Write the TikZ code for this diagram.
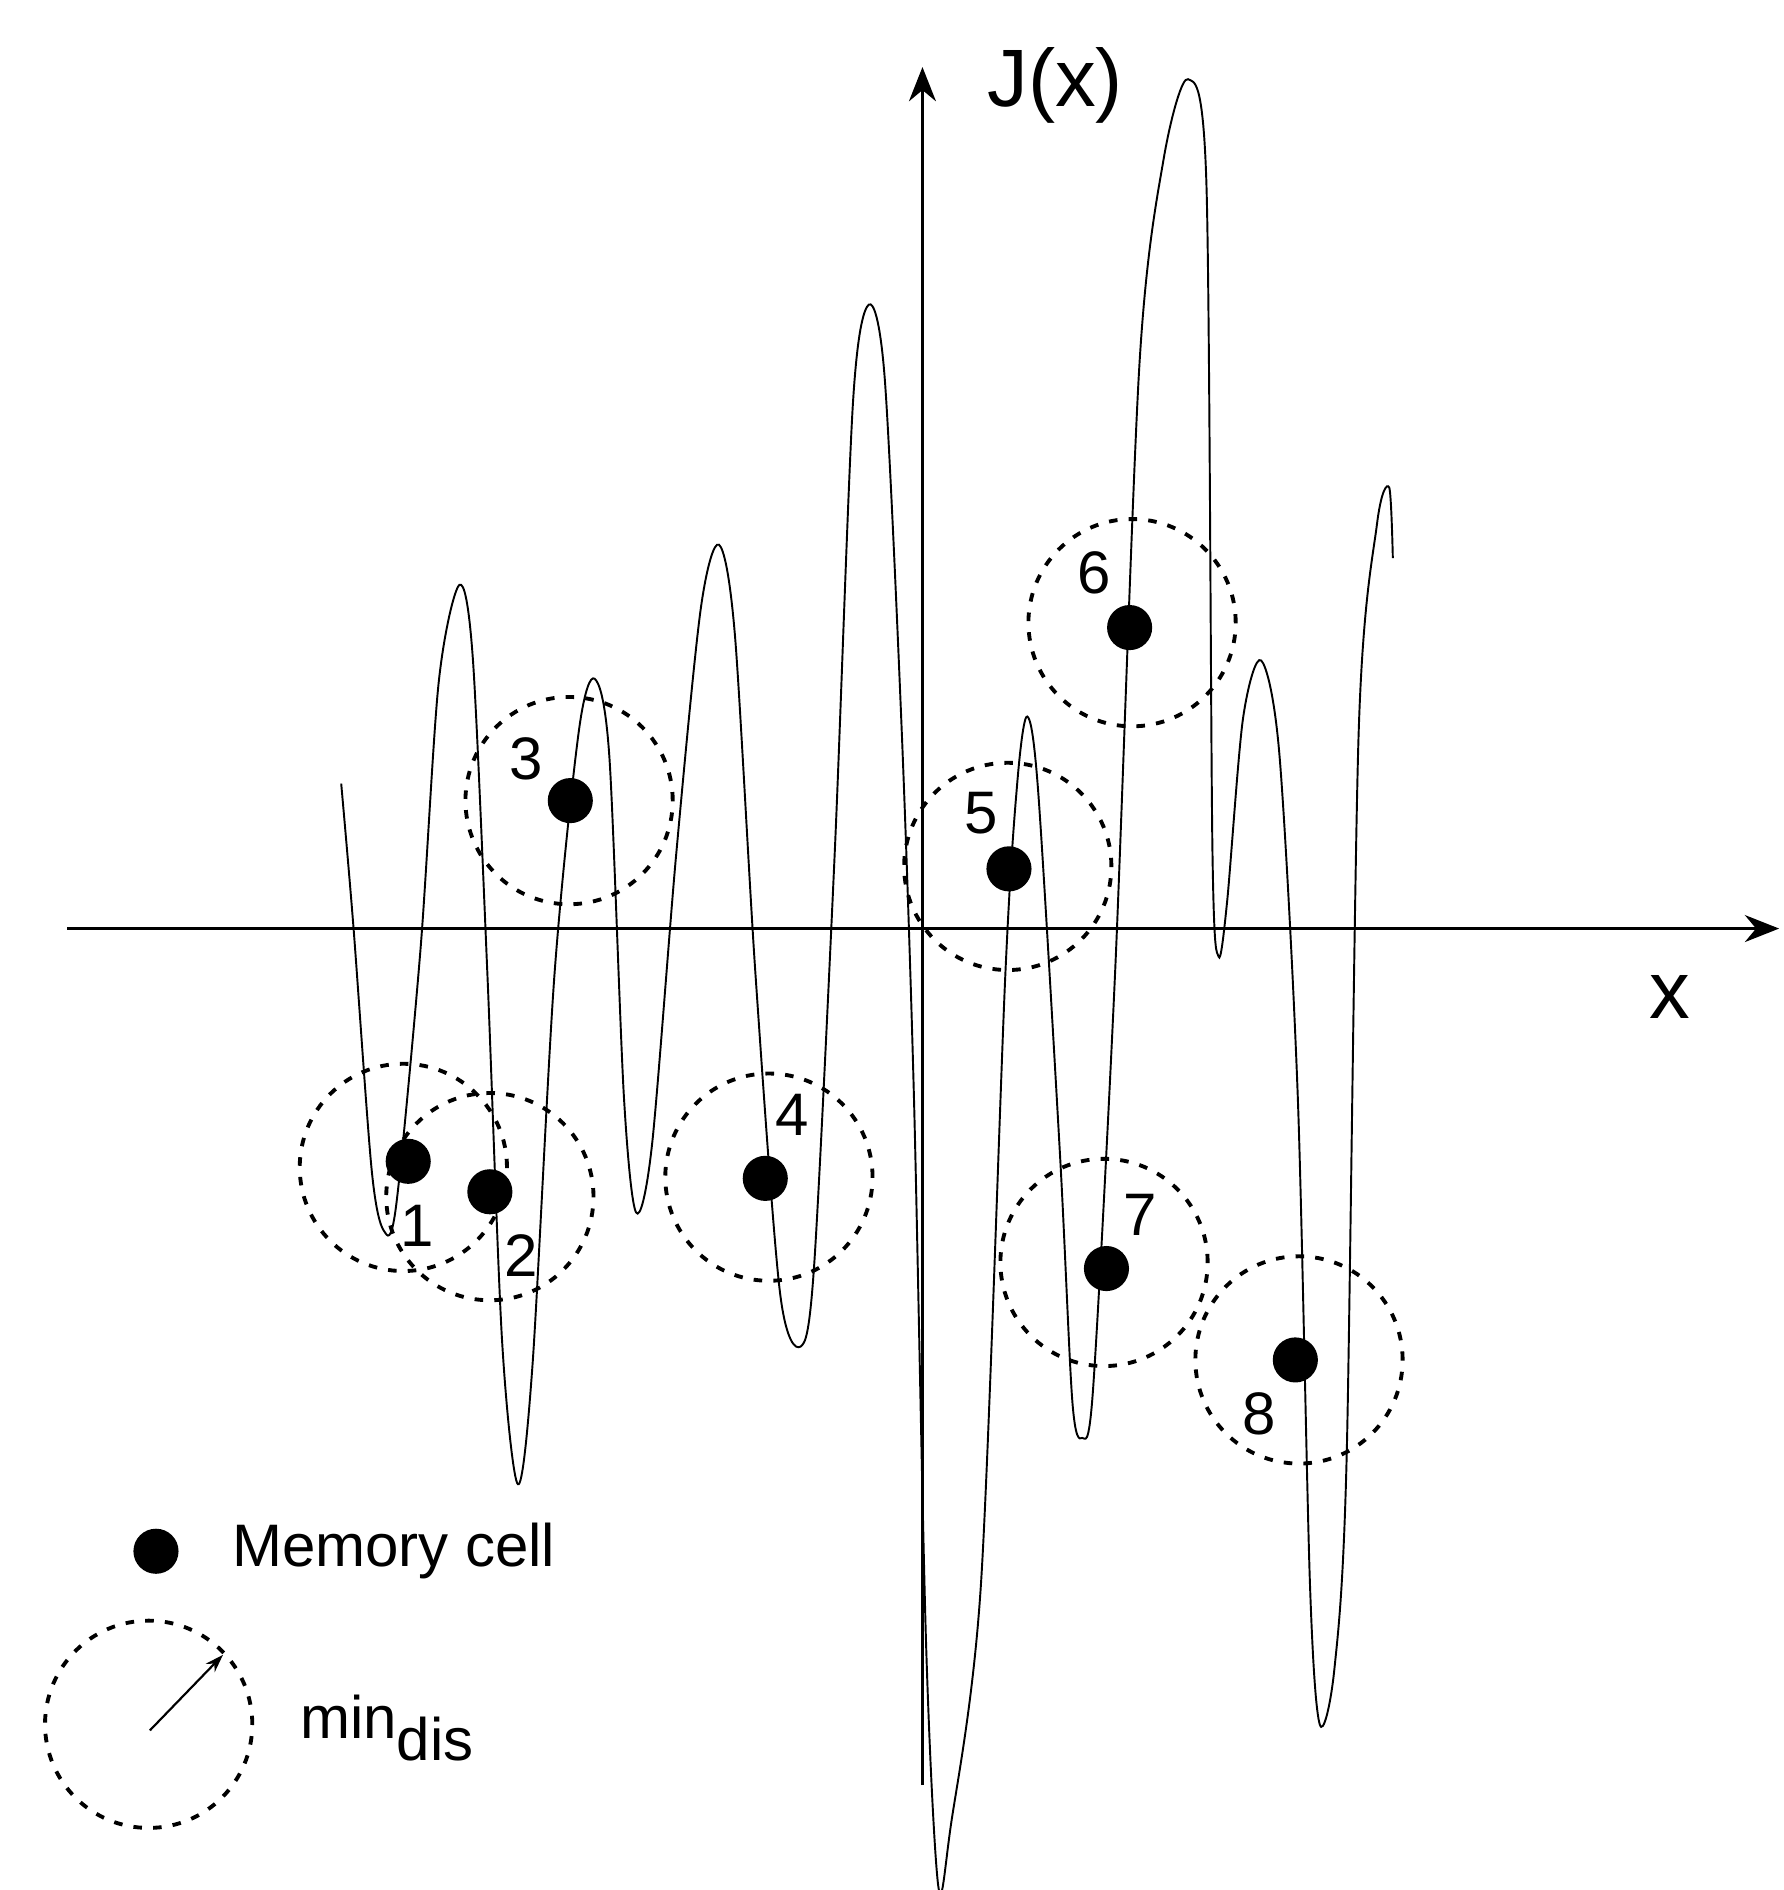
\documentclass[tikz,border=0pt]{standalone}
\usepackage{fontspec}
\setmainfont{Liberation Sans}
\usetikzlibrary{arrows.meta}
\begin{document}
\begin{tikzpicture}[x=0.01cm,y=-0.01cm,
  zone/.style={draw,dash pattern=on 2pt off 2.6pt,line width=0.9pt},
  cell/.style={circle,fill=black,inner sep=0pt,minimum size=0.37cm},
  num/.style={font=\fontsize{14}{14}\selectfont},
  axis/.style={line width=0.9pt,-{Stealth[length=0.28cm,width=0.22cm]}}]
\useasboundingbox (0,0) rectangle (1464,1551);
% axes
\coordinate (xs) at (55,762); \coordinate (xe) at (1460,762);
\coordinate (ys) at (757,1465); \coordinate (ye) at (757,55);
\draw[axis] (xs) -- (xe);
\draw[axis] (ys) -- (ye);
\node[font=\fontsize{19}{19}\selectfont] (jl) at (866,70) {J(x)};
\node[font=\fontsize{19}{19}\selectfont] (xl) at (1370,818) {x};
% curve
\draw[line width=0.45pt] plot[smooth,tension=0.5] coordinates {
(280,643) (290,760)(305,960)(315,1010)(325,990)(345,780)(360,560)(377,480)(388,540)(400,800)(412,1100)(425,1218)(437,1120)(455,800)(475,600)(488,557)(500,620)(512,900)(522,995)(535,940)(555,700)(575,500)(590,447)(603,520)(620,800)(640,1060)(657,1105)(668,1040)(685,700)(700,330)(713,250)(726,310)(740,600)(750,900)(760,1350)(770,1548)(780,1500)(805,1300)(825,800)(835,640)(843,588)(852,650)(870,950)(880,1150)(888,1180)(897,1140)(915,800)(935,300)(955,130)(975,65)(990,150)(995,700)(1000,785)(1007,740)(1020,590)(1035,542)(1050,620)(1065,900)(1075,1300)(1083,1415)(1095,1370)(1105,1200)(1115,600)(1130,430)(1140,400)(1143,458)};
% zones
\draw[zone] (331,958) circle[radius=0.85cm];
\draw[zone] (402,982) circle[radius=0.85cm];
\draw[zone] (467,657) circle[radius=0.85cm];
\draw[zone] (631,966) circle[radius=0.85cm];
\draw[zone] (827,711) circle[radius=0.85cm];
\draw[zone] (929,511) circle[radius=0.85cm];
\draw[zone] (906,1036) circle[radius=0.85cm];
\draw[zone] (1066,1116) circle[radius=0.85cm];
% cells
\node[cell] (c1) at (335,953) {};
\node[cell] (c2) at (402,978) {};
\node[cell] (c3) at (468,657) {};
\node[cell] (c4) at (628,967) {};
\node[cell] (c5) at (828,713) {};
\node[cell] (c6) at (927,515) {};
\node[cell] (c7) at (908,1041) {};
\node[cell] (c8) at (1063,1116) {};
\node[num] (l1) at (342,1006) {1};
\node[num] (l2) at (428,1030) {2};
\node[num] (l3) at (432,623) {3};
\node[num] (l4) at (650,915) {4};
\node[num] (l5) at (805,667) {5};
\node[num] (l6) at (898,470) {6};
\node[num] (l7) at (936,997) {7};
\node[num] (l8) at (1033,1160) {8};
% legend
\node[cell] (lc) at (128,1273) {};
\node[num,anchor=west] (lt) at (178,1273) {Memory cell};
\draw[zone] (122,1415) circle[radius=0.85cm];
\coordinate (as) at (123,1420); \coordinate (ae) at (183,1358);
\draw[line width=0.5pt,-{Stealth[length=0.15cm,width=0.1cm]}] (as) -- (ae);
\node[num,anchor=west] (lm) at (234,1418) {min$_{\textrm{dis}}$};
\end{tikzpicture}
\end{document}
